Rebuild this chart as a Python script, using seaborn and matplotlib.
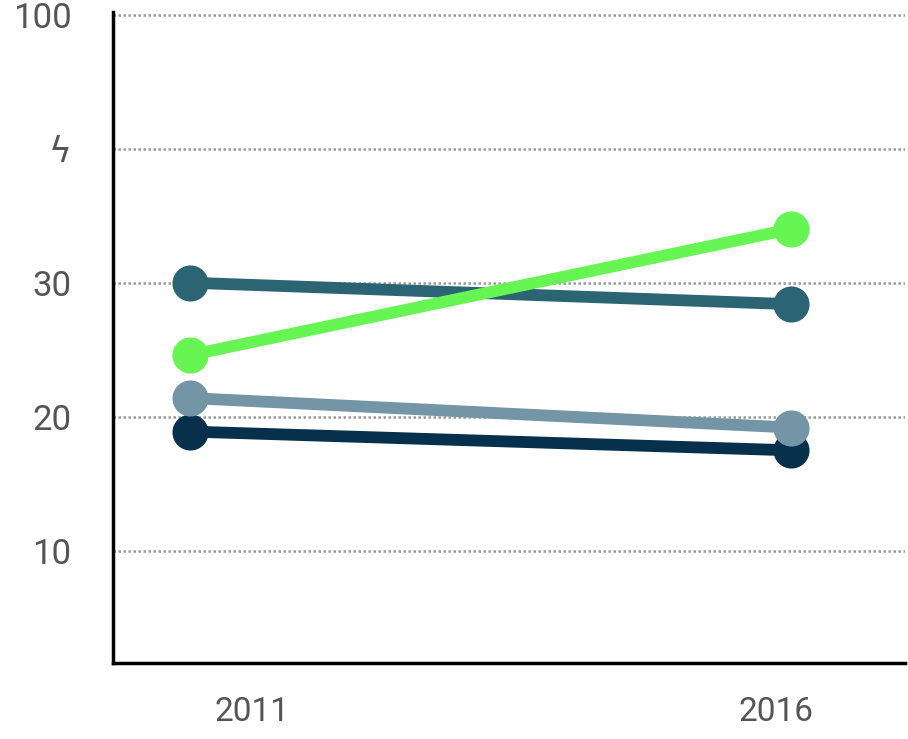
import pandas as pd
import seaborn as sns
import matplotlib.pyplot as plt

# data
years = [2011, 2016]
series_names = ['navy', 'slate', 'teal', 'green']
navy_vals = [18.9, 17.5]
slate_vals = [21.4, 19.2]
teal_vals = [30.0, 28.4]
green_vals = [24.6, 34.0]
colors = ['#06304c', '#7495a5', '#2b6472', '#66f553']

y_ticks = [10, 20, 30, 40, 50]
y_labels = ['10', '20', '30', '\u03df', '100']
x_label_pos = [2011.52, 2015.88]
x_labels = ['2011', '2016']

df = pd.DataFrame({
    'year': years * 4,
    'value': navy_vals + slate_vals + teal_vals + green_vals,
    'series': [s for s in series_names for _ in years],
})

sns.set_style('white')
plt.rcParams['font.family'] = ['Roboto', 'DejaVu Sans']

fig = plt.figure(figsize=(9.08, 7.39), dpi=100)
ax = fig.add_axes([0.1245, 0.1028, 0.8722, 0.8812])

sns.lineplot(data=df, x='year', y='value', hue='series', hue_order=series_names,
             palette=colors, marker='o', markersize=26, markeredgewidth=0,
             linewidth=8.5, legend=False, ax=ax)

ax.set_xlim(2010.36, 2016.95)
ax.set_ylim(1.64, 50.2)
ax.set_yticks(y_ticks, y_labels)
ax.set_xticks(x_label_pos, x_labels)
ax.set_xlabel('')
ax.set_ylabel('')
ax.yaxis.grid(True, linestyle=(0, (1, 1)), color='#999999', linewidth=1.8)
ax.set_axisbelow(True)
ax.tick_params(axis='y', length=0, pad=30, labelsize=25, labelcolor='#555555')
ax.tick_params(axis='x', length=0, pad=24, labelsize=24, labelcolor='#555555')

for side in ['top', 'right']:
    ax.spines[side].set_visible(False)
for side in ['left', 'bottom']:
    ax.spines[side].set_color('black')
    ax.spines[side].set_linewidth(2.5)

fig.savefig('out.png', dpi=100)
